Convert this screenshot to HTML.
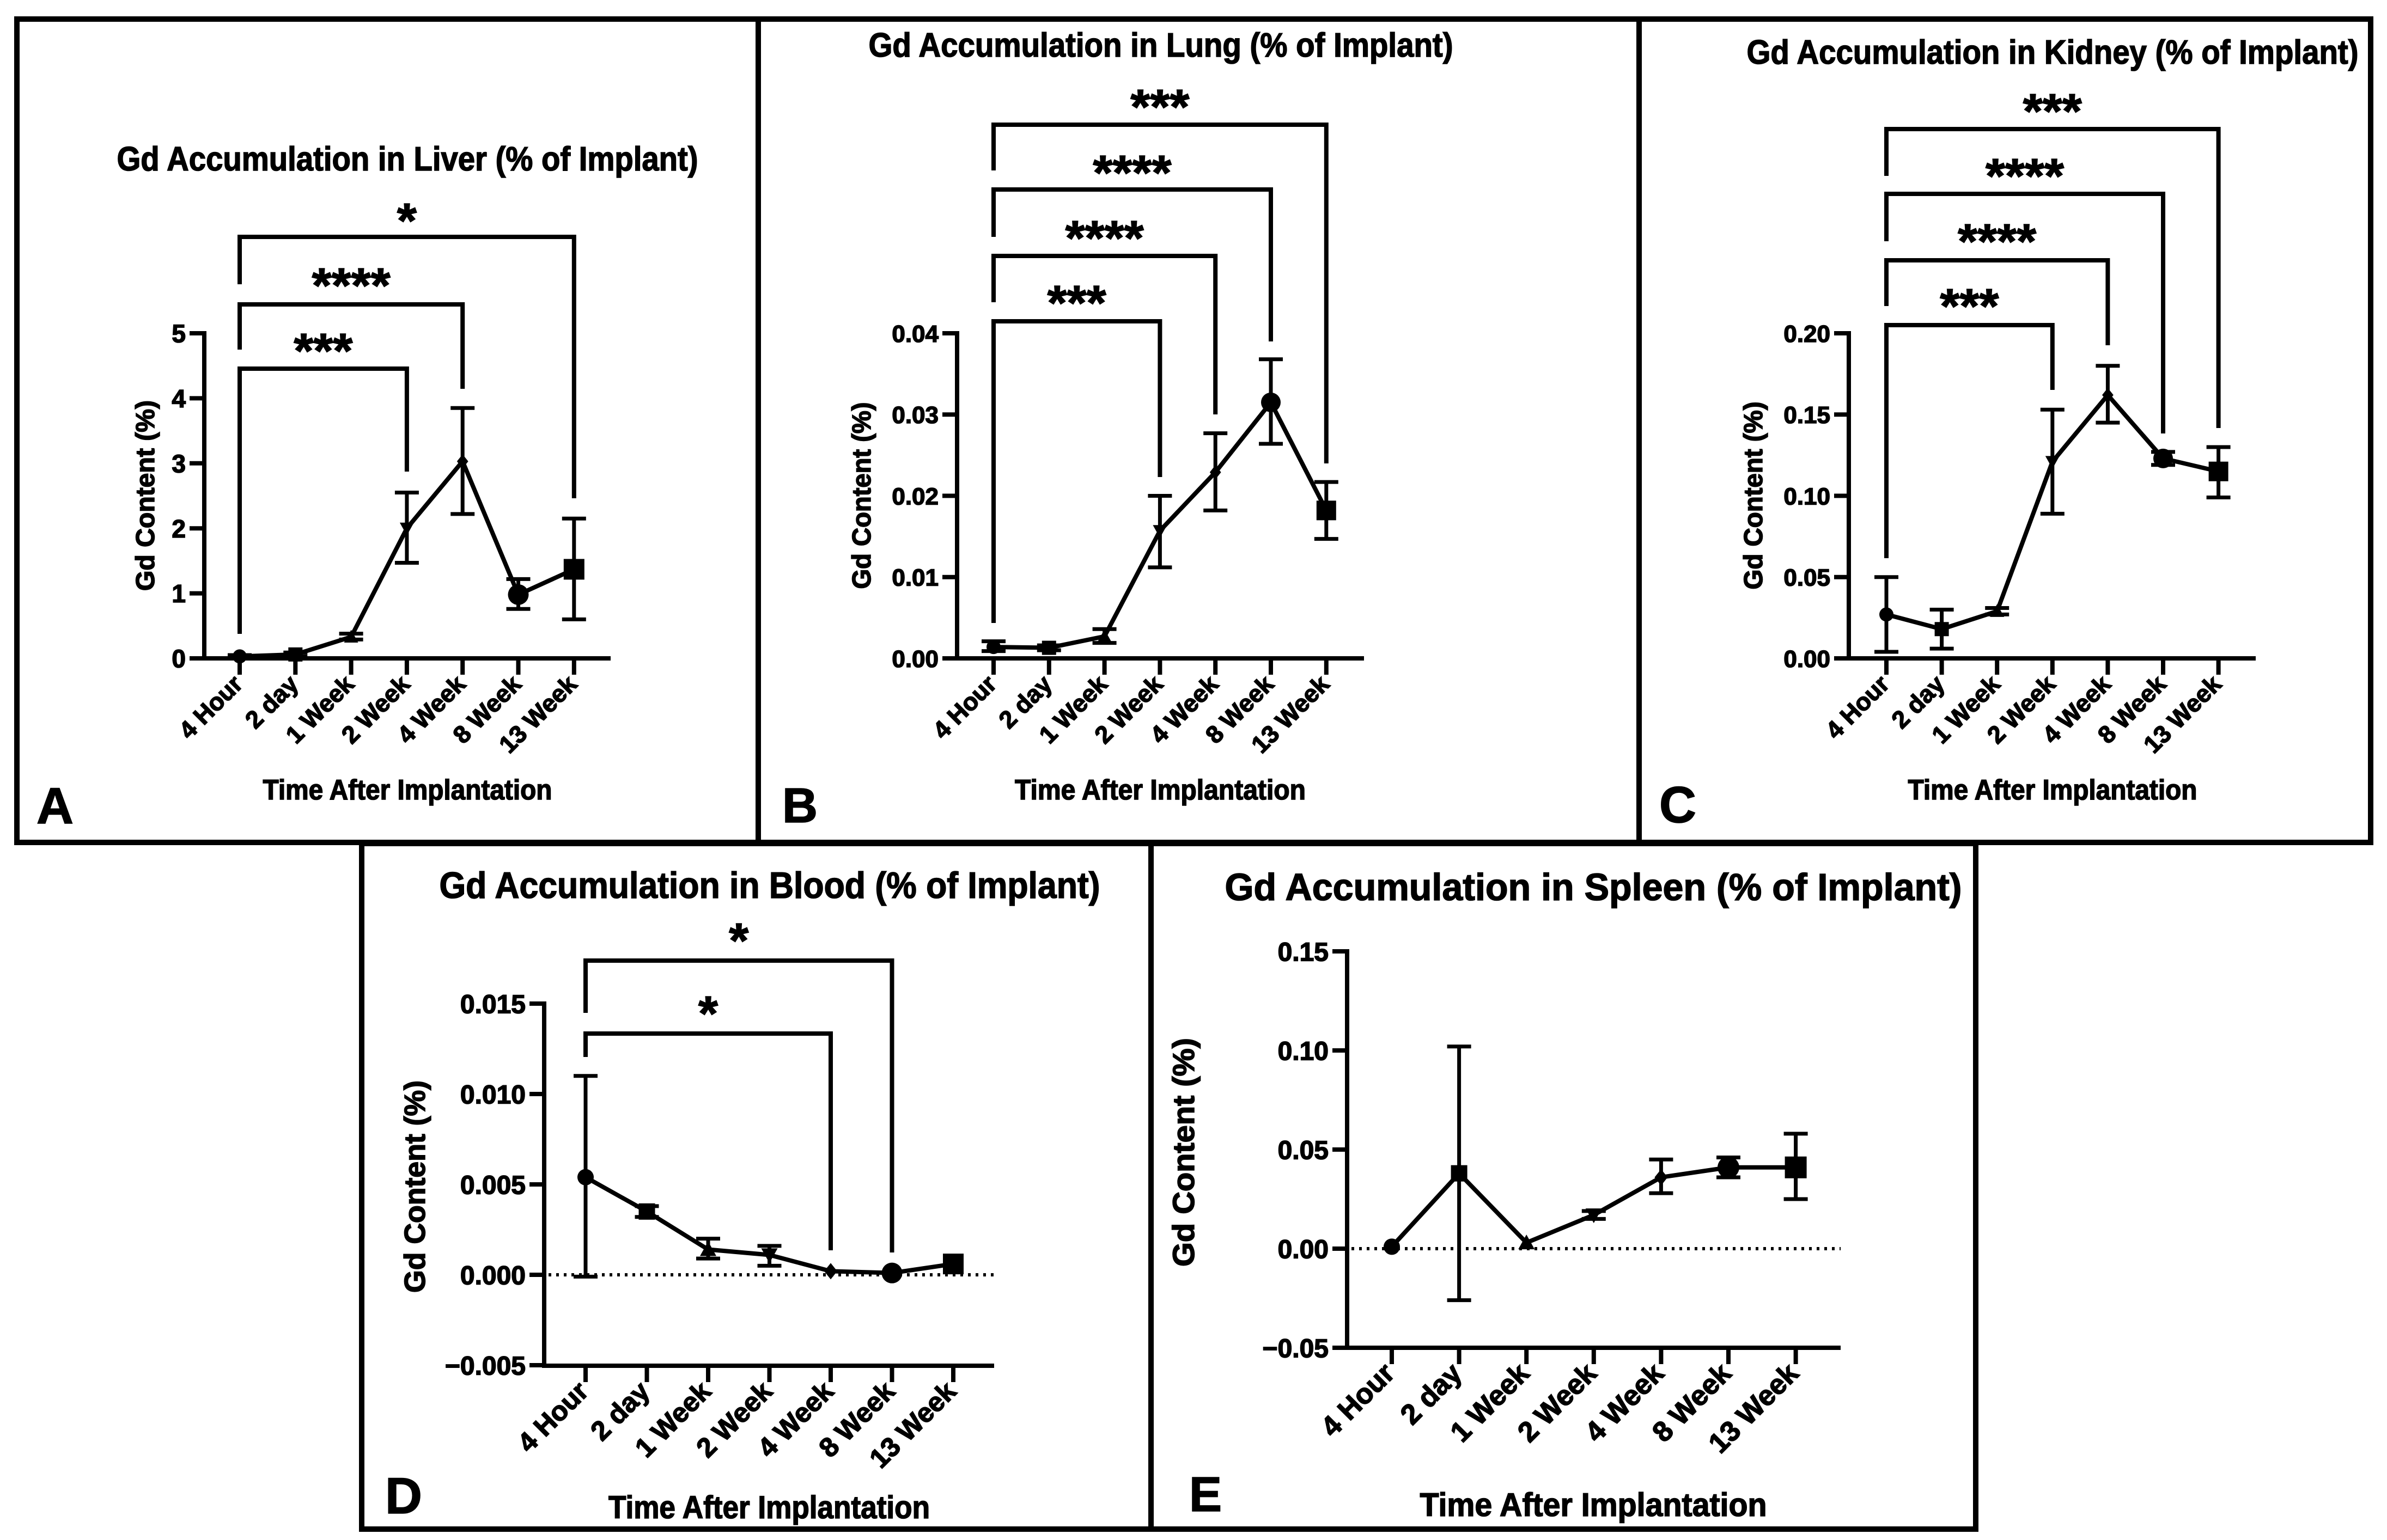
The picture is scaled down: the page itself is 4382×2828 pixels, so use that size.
<!DOCTYPE html>
<html><head><meta charset="utf-8"><style>
html,body{margin:0;padding:0;background:#fff}
svg{display:block}
text{font-family:"Liberation Sans",Arial,sans-serif;font-weight:bold;fill:#000;stroke:#000;stroke-width:1.6px}
</style></head><body>
<svg id="fig" xmlns="http://www.w3.org/2000/svg" width="4382" height="2828" viewBox="0 0 4382 2828">
<rect x="0" y="0" width="4382" height="2828" fill="#fff"/>
</svg>
<script>
const categories = ["4 Hour","2 day","1 Week","2 Week","4 Week","8 Week","13 Week"];
const markerShapes = ["circle","square","tri-up","tri-down","diamond","circle","square"];

const liverMean = [0.03,0.06,0.33,2.0,3.03,0.98,1.37];
const liverLow  = [0.01,0.03,0.29,1.47,2.22,0.76,0.60];
const liverHigh = [0.05,0.09,0.38,2.55,3.85,1.22,2.15];
const liverTicks = [0,1,2,3,4,5];
const liverTickLabels = ["0","1","2","3","4","5"];
const liverStars = ["***","****","*"];
const liverPairs = [[0,3],[0,4],[0,6]];

const lungMean = [0.0014,0.0013,0.0027,0.0157,0.0229,0.0315,0.0182];
const lungLow  = [0.0009,0.0010,0.0019,0.0112,0.0182,0.0264,0.0147];
const lungHigh = [0.0021,0.0016,0.0036,0.0200,0.0277,0.0368,0.0217];
const lungTicks = [0,0.01,0.02,0.03,0.04];
const lungTickLabels = ["0.00","0.01","0.02","0.03","0.04"];
const lungStars = ["***","****","****","***"];
const lungPairs = [[0,3],[0,4],[0,5],[0,6]];

const kidneyMean = [0.027,0.018,0.029,0.121,0.162,0.123,0.115];
const kidneyLow  = [0.004,0.006,0.027,0.089,0.145,0.119,0.099];
const kidneyHigh = [0.050,0.030,0.031,0.153,0.180,0.127,0.130];
const kidneyTicks = [0,0.05,0.10,0.15,0.20];
const kidneyTickLabels = ["0.00","0.05","0.10","0.15","0.20"];
const kidneyStars = ["***","****","****","***"];
const kidneyPairs = [[0,3],[0,4],[0,5],[0,6]];

const bloodMean = [0.0054,0.0035,0.0014,0.0011,0.0002,0.0001,0.0006];
const bloodLow  = [-0.0001,0.0032,0.0009,0.0005,0.0002,0.0001,0.0006];
const bloodHigh = [0.0110,0.0038,0.0020,0.0016,0.0002,0.0001,0.0006];
const bloodTicks = [-0.005,0,0.005,0.010,0.015];
const bloodTickLabels = ["\u22120.005","0.000","0.005","0.010","0.015"];
const bloodStars = ["*","*"];
const bloodPairs = [[0,4],[0,5]];

const spleenMean = [0.001,0.038,0.003,0.017,0.036,0.041,0.041];
const spleenLow  = [0.001,-0.026,0.003,0.015,0.028,0.036,0.025];
const spleenHigh = [0.001,0.102,0.003,0.019,0.045,0.046,0.058];
const spleenTicks = [-0.05,0,0.05,0.10,0.15];
const spleenTickLabels = ["\u22120.05","0.00","0.05","0.10","0.15"];
const spleenStars = [];
const spleenPairs = [];

const NS="http://www.w3.org/2000/svg";
const svg=document.getElementById('fig');
function mk(tag,attrs,parent){const e=document.createElementNS(NS,tag);for(const k in attrs)e.setAttribute(k,attrs[k]);(parent||svg).appendChild(e);return e;}

function drawPanel(L, mean, low, high, ticks, tickLabels, stars, pairs){
  const g=mk('g',{});
  
  
  const border=mk('rect',{x:L.bx0,y:L.by0,width:L.bx1-L.bx0,height:L.by1-L.by0,fill:'none',stroke:'#000','stroke-width':10},g);
  
  
  const yv=v=>L.yZeroPx+(v-L.vA)*(L.yTopPx-L.yZeroPx)/(L.vB-L.vA);
  const xc=i=>L.cx0+i*L.step;
  const t=mk('text',{x:L.titleCx,y:L.titleY,'font-size':L.titleFs,'text-anchor':'middle',textLength:L.titleW,lengthAdjust:'spacingAndGlyphs'},g);
  t.textContent=L.title;
  
  
  const yMaxV=ticks[ticks.length-1];
  const ya=mk('line',{x1:L.ax,y1:yv(yMaxV)-4,x2:L.ax,y2:L.axisY+4,stroke:'#000','stroke-width':8},g);
  
  
  const xa=mk('line',{x1:L.ax-4,y1:L.axisY,x2:L.xEnd,y2:L.axisY,stroke:'#000','stroke-width':8},g);
  
  
  if(L.dotted){
    const d=mk('line',{x1:L.ax+8,y1:yv(0),x2:L.xEnd,y2:yv(0),stroke:'#000','stroke-width':6,'stroke-dasharray':'5 9'},g);
    
    
  }
  ticks.forEach((v,i)=>{
    const y=yv(v);
    mk('line',{x1:L.ax-27,y1:y,x2:L.ax,y2:y,stroke:'#000','stroke-width':8},g);
    const tl=mk('text',{x:L.ax-34,y:y+L.tickFs*0.36,'font-size':L.tickFs,'text-anchor':'end'},g);
    tl.textContent=tickLabels[i];
    
    
  });
  categories.forEach((c,i)=>{
    const x=xc(i);
    mk('line',{x1:x,y1:L.axisY,x2:x,y2:L.axisY+30,stroke:'#000','stroke-width':8},g);
    const tx=x+8, ty=L.axisY+50;
    const tl=mk('text',{x:tx,y:ty,'font-size':L.catFs,'text-anchor':'end',transform:`rotate(-45 ${tx} ${ty})`},g);
    tl.textContent=c;
    
    
  });
  const yt=mk('text',{x:L.ytX+17,y:L.ytY,'font-size':L.ytFs,'text-anchor':'middle',textLength:L.ytW,lengthAdjust:'spacingAndGlyphs',transform:`rotate(-90 ${L.ytX+17} ${L.ytY})`},g);
  yt.textContent="Gd Content (%)";
  
  
  const xt=mk('text',{x:L.xtCx,y:L.xtY,'font-size':L.xtFs,'text-anchor':'middle',textLength:L.xtW,lengthAdjust:'spacingAndGlyphs'},g);
  xt.textContent="Time After Implantation";
  
  
  const lt=mk('text',{x:L.letX,y:L.letY,'font-size':L.letFs},g);
  lt.textContent=L.letter;
  
  
  pairs.forEach((p,k)=>{
    const B=L.brackets[k];
    const x1=xc(p[0]), x2=xc(p[1]);
    const br=mk('path',{d:`M${x1} ${B.le} L${x1} ${B.y} L${x2} ${B.y} L${x2} ${B.re}`,fill:'none',stroke:'#000','stroke-width':8},g);
    
    
    const n=stars[k].length;
    const st=mk('text',{x:(x1+x2)/2,y:B.sy+38,'font-size':90,'text-anchor':'middle',textLength:n*36,lengthAdjust:'spacingAndGlyphs'},g);
    st.textContent=stars[k];
    
    
  });
  mean.forEach((m,i)=>{
    const x=xc(i), y1=yv(low[i]), y2=yv(high[i]);
    if(Math.abs(y1-y2)>2){
      const eb=mk('path',{d:`M${x} ${y1} L${x} ${y2} M${x-22} ${y1} L${x+22} ${y1} M${x-22} ${y2} L${x+22} ${y2}`,fill:'none',stroke:'#000','stroke-width':7},g);
      
      
    }
  });
  const pts=mean.map((m,i)=>xc(i)+','+yv(m)).join(' ');
  const pl=mk('polyline',{points:pts,fill:'none',stroke:'#000','stroke-width':8,'stroke-linejoin':'round'},g);
  
  
  mean.forEach((m,i)=>{
    const x=xc(i), y=yv(m);
    const r=(i>=5)?L.bigR:L.r;
    let e;
    const s=markerShapes[i];
    if(s==='circle') e=mk('circle',{cx:x,cy:y,r:r},g);
    else if(s==='square') e=mk('rect',{x:x-r,y:y-r,width:2*r,height:2*r},g);
    else if(s==='tri-up') e=mk('polygon',{points:`${x},${y-r} ${x+r},${y+r*0.8} ${x-r},${y+r*0.8}`},g);
    else if(s==='tri-down') e=mk('polygon',{points:`${x},${y+r} ${x+r},${y-r*0.8} ${x-r},${y-r*0.8}`},g);
    else e=mk('polygon',{points:`${x},${y-r} ${x+r*0.8},${y} ${x},${y+r} ${x-r*0.8},${y}`},g);
    e.setAttribute('fill','#000');
    
    
  });
}

drawPanel({name:'liver',letter:'A',bx0:31,by0:35,bx1:1392,by1:1547,
  title:'Gd Accumulation in Liver (% of Implant)',titleCx:748,titleY:313,titleFs:62,titleW:1067,
  ax:375,axisY:1209,yZeroPx:1209,yTopPx:612,vA:0,vB:5,cx0:440,step:102.3,xEnd:1121,
  tickFs:46,catFs:45,ytX:266,ytY:910,ytFs:48,ytW:350,xtCx:748,xtY:1468,xtFs:52,xtW:531,
  letX:67,letY:1512,letFs:94,r:13,bigR:19,dotted:false,
  brackets:[{y:677,le:1164,re:866,sy:637},{y:559,le:642,re:714,sy:517},{y:435,le:522,re:915,sy:398}]},
  liverMean,liverLow,liverHigh,liverTicks,liverTickLabels,liverStars,liverPairs);

drawPanel({name:'lung',letter:'B',bx0:1392,by0:35,bx1:3009,by1:1547,
  title:'Gd Accumulation in Lung (% of Implant)',titleCx:2131,titleY:104,titleFs:62,titleW:1073,
  ax:1757,axisY:1209,yZeroPx:1209,yTopPx:612,vA:0,vB:0.04,cx0:1824,step:101.8,xEnd:2504,
  tickFs:44,catFs:45,ytX:1581,ytY:910,ytFs:48,ytW:343,xtCx:2130,xtY:1468,xtFs:52,xtW:534,
  letX:1436,letY:1510,letFs:90,r:13,bigR:18,dotted:false,
  brackets:[{y:590,le:1144,re:876,sy:549},{y:470,le:555,re:761,sy:430},{y:348,le:435,re:627,sy:310},{y:229,le:313,re:851,sy:189}]},
  lungMean,lungLow,lungHigh,lungTicks,lungTickLabels,lungStars,lungPairs);

drawPanel({name:'kidney',letter:'C',bx0:3009,by0:35,bx1:4352,by1:1547,
  title:'Gd Accumulation in Kidney (% of Implant)',titleCx:3768,titleY:117,titleFs:62,titleW:1123,
  ax:3394,axisY:1209,yZeroPx:1209,yTopPx:612,vA:0,vB:0.20,cx0:3463,step:101.6,xEnd:4141,
  tickFs:44,catFs:45,ytX:3218,ytY:910,ytFs:48,ytW:345,xtCx:3768,xtY:1468,xtFs:52,xtW:531,
  letX:3046,letY:1510,letFs:94,r:13,bigR:18,dotted:false,
  brackets:[{y:597,le:1025,re:716,sy:555},{y:478,le:562,re:634,sy:436},{y:356,le:443,re:796,sy:316},{y:237,le:323,re:786,sy:197}]},
  kidneyMean,kidneyLow,kidneyHigh,kidneyTicks,kidneyTickLabels,kidneyStars,kidneyPairs);

drawPanel({name:'blood',letter:'D',bx0:664,by0:1549,bx1:2113,by1:2808,
  title:'Gd Accumulation in Blood (% of Implant)',titleCx:1413,titleY:1649,titleFs:68,titleW:1213,
  ax:999,axisY:2508,yZeroPx:2341,yTopPx:1843,vA:0,vB:0.015,cx0:1075,step:112.5,xEnd:1825,
  tickFs:48,catFs:50,ytX:763,ytY:2179,ytFs:54,ytW:390,xtCx:1412,xtY:2788,xtFs:58,xtW:590,
  letX:707,letY:2779,letFs:94,r:15,bigR:19,dotted:true,
  brackets:[{y:1898,le:1941,re:2296,sy:1854},{y:1764,le:1860,re:2300,sy:1720}]},
  bloodMean,bloodLow,bloodHigh,bloodTicks,bloodTickLabels,bloodStars,bloodPairs);

drawPanel({name:'spleen',letter:'E',bx0:2113,by0:1549,bx1:3627,by1:2808,
  title:'Gd Accumulation in Spleen (% of Implant)',titleCx:2925,titleY:1653,titleFs:70,titleW:1353,
  ax:2473,axisY:2475,yZeroPx:2293,yTopPx:1747,vA:0,vB:0.15,cx0:2555,step:123.6,xEnd:3379,
  tickFs:48,catFs:52,ytX:2175,ytY:2116,ytFs:56,ytW:420,xtCx:2925,xtY:2784,xtFs:60,xtW:637,
  letX:2183,letY:2775,letFs:90,r:15,bigR:20,dotted:true,
  brackets:[]},
  spleenMean,spleenLow,spleenHigh,spleenTicks,spleenTickLabels,spleenStars,spleenPairs);
</script>
</body></html>
